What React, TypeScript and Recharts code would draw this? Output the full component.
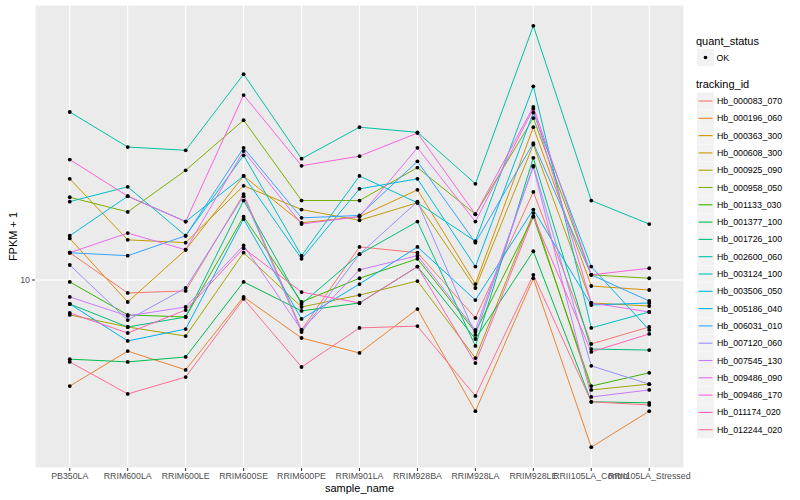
import React from "react";
import { LineChart, Line, XAxis, YAxis, CartesianGrid, Label } from "recharts";

const samples = [
  "PB350LA",
  "RRIM600LA",
  "RRIM600LE",
  "RRIM600SE",
  "RRIM600PE",
  "RRIM901LA",
  "RRIM928BA",
  "RRIM928LA",
  "RRIM928LE",
  "RRII105LA_Control",
  "RRII105LA_Stressed",
];

const trackingIds = [
  "Hb_000083_070",
  "Hb_000196_060",
  "Hb_000363_300",
  "Hb_000608_300",
  "Hb_000925_090",
  "Hb_000958_050",
  "Hb_001133_030",
  "Hb_001377_100",
  "Hb_001726_100",
  "Hb_002600_060",
  "Hb_003124_100",
  "Hb_003506_050",
  "Hb_005186_040",
  "Hb_006031_010",
  "Hb_007120_060",
  "Hb_007545_130",
  "Hb_009486_090",
  "Hb_009486_170",
  "Hb_011174_020",
  "Hb_012244_020",
];

// ggplot default hue palette, 20 levels
const colors = [
  "#F8766D", "#EA8331", "#D89000", "#C09B00", "#A3A500",
  "#7CAE00", "#39B600", "#00BB4E", "#00BF7D", "#00C1A3",
  "#00BFC4", "#00BAE0", "#00B0F6", "#35A2FF", "#9590FF",
  "#C77CFF", "#E76BF3", "#FA62DB", "#FF62BC", "#FF6C91",
];

// FPKM + 1, one value per sample
const hb000083_070 = [11.7, 9.28, 9.39, 16.4, 7.5, 12.1, 11.7, 8.04, 16.6, 6.92, 7.63];
const hb000196_060 = [5.43, 6.64, 5.96, 9.07, 7.16, 6.57, 8.46, 4.7, 10.1, 3.82, 4.7];
const hb000363_300 = [12.7, 8.81, 11.9, 18.2, 13.9, 14.4, 16.8, 9.77, 24.1, 9.66, 9.44];
const hb000608_300 = [17.9, 12.6, 12.4, 17.2, 15.0, 14.1, 15.6, 9.55, 21.8, 8.76, 8.61];
const hb000925_090 = [8.18, 7.63, 7.24, 11.7, 8.56, 9.17, 9.94, 6.38, 14.7, 5.31, 5.49];
const hb000958_050 = [16.1, 14.8, 18.8, 25.1, 15.8, 15.8, 19.1, 14.6, 25.4, 10.3, 10.1];
const hb001133_030 = [9.89, 8.18, 8.08, 14.4, 8.81, 10.1, 11.3, 7.41, 14.4, 5.43, 5.86];
const hb001377_100 = [6.34, 6.24, 6.42, 9.89, 8.37, 8.76, 10.8, 7.12, 11.8, 4.96, 4.93];
const hb001726_100 = [8.71, 7.63, 8.08, 15.8, 8.71, 11.6, 14.0, 6.84, 20.2, 6.72, 6.68];
const hb002600_060 = [26.3, 21.5, 21.1, 32.7, 20.1, 24.1, 23.4, 17.4, 43.2, 15.8, 13.8];
const hb003124_100 = [15.7, 17.1, 12.9, 20.5, 11.5, 18.2, 15.6, 12.5, 30.5, 7.59, 8.32];
const hb003506_050 = [12.9, 16.2, 14.0, 18.2, 11.3, 16.9, 17.9, 10.8, 26.2, 10.8, 7.5];
const hb005186_040 = [8.71, 7.04, 7.54, 14.2, 7.99, 9.77, 12.1, 8.91, 15.0, 8.66, 8.76];
const hb006031_010 = [11.7, 11.5, 12.9, 21.4, 14.3, 14.5, 19.8, 12.4, 22.0, 10.3, 8.86];
const hb007120_060 = [10.9, 7.94, 9.55, 16.2, 7.41, 11.6, 15.7, 7.29, 19.3, 6.1, 5.49];
const hb007545_130 = [9.07, 8.13, 8.56, 12.2, 7.5, 10.6, 11.5, 7.5, 19.2, 5.1, 5.31];
const hb009486_090 = [11.7, 13.1, 11.9, 21.0, 13.8, 14.4, 21.4, 14.0, 26.8, 8.76, 8.32];
const hb009486_170 = [20.0, 16.2, 14.0, 29.0, 19.3, 20.4, 23.3, 14.6, 27.1, 10.3, 10.7];
const hb011174_020 = [8.27, 7.37, 8.41, 12.0, 9.33, 8.76, 10.8, 6.2, 14.4, 6.61, 7.33];
const hb012244_020 = [6.24, 5.19, 5.72, 8.97, 6.06, 7.59, 7.67, 5.13, 10.3, 4.96, 4.87];

const seriesValues = [
  hb000083_070, hb000196_060, hb000363_300, hb000608_300, hb000925_090,
  hb000958_050, hb001133_030, hb001377_100, hb001726_100, hb002600_060,
  hb003124_100, hb003506_050, hb005186_040, hb006031_010, hb007120_060,
  hb007545_130, hb009486_090, hb009486_170, hb011174_020, hb012244_020,
];

const yTicks = [10];

const data = samples.map((name, i) => {
  const row: Record<string, number | string> = { x: i, name };
  trackingIds.forEach((id, k) => {
    row[id] = seriesValues[k][i];
  });
  return row;
});

const FONT = '"Liberation Sans", Arial, Helvetica, sans-serif';

const LegendPanel = () => {
  const top = 92.5;
  const step = 17.3;
  return (
    <svg
      width={112}
      height={500}
      style={{ position: "absolute", left: 688, top: 0 }}
      fontFamily={FONT}
    >
      <text x={8} y={44.5} fontSize={11} fill="#000">
        quant_status
      </text>
      <rect x={9} y={49} width={17} height={17} fill="#F2F2F2" />
      <circle cx={17.5} cy={57.5} r={1.8} fill="#000" />
      <text x={28.5} y={61} fontSize={8.8} fill="#000">
        OK
      </text>
      <text x={8} y={88} fontSize={11} fill="#000">
        tracking_id
      </text>
      {trackingIds.map((id, k) => {
        const y = top + k * step;
        return (
          <g key={id}>
            <rect x={9} y={y} width={17} height={17} fill="#F2F2F2" />
            <line x1={10.5} x2={24.5} y1={y + 8.5} y2={y + 8.5} stroke={colors[k]} strokeWidth={1.1} />
            <text x={29} y={y + 11.5} fontSize={8.8} fill="#000">
              {id}
            </text>
          </g>
        );
      })}
    </svg>
  );
};

export default function App() {
  return (
    <div
      style={{
        position: "absolute",
        left: 0,
        top: 0,
        width: 800,
        height: 500,
        background: "#fff",
        fontFamily: FONT,
      }}
    >
      <LineChart
        width={800}
        height={500}
        data={data}
        margin={{ top: 5, right: 116, bottom: 0, left: 0 }}
      >
        <CartesianGrid fill="#EBEBEB" fillOpacity={1} stroke="#FFFFFF" strokeWidth={1.1} />
        <XAxis
          dataKey="x"
          type="number"
          domain={[-0.6, 10.6]}
          ticks={samples.map((_, i) => i)}
          tickFormatter={(i: number) => samples[i]}
          interval={0}
          height={32}
          axisLine={false}
          tickSize={3}
          tickLine={{ stroke: "#333333" }}
          tick={{ fontSize: 8.8, fill: "#4D4D4D", fontFamily: FONT }}
        >
          <Label
            content={() => (
              <text x={359.5} y={492} textAnchor="middle" fontSize={11} fill="#000" fontFamily={FONT}>
                sample_name
              </text>
            )}
          />
        </XAxis>
        <YAxis
          type="number"
          scale="log"
          domain={[3.388, 48.7]}
          allowDataOverflow
          ticks={yTicks}
          width={35}
          axisLine={false}
          tickSize={3}
          tickLine={{ stroke: "#333333" }}
          tick={{ fontSize: 8.8, fill: "#4D4D4D", fontFamily: FONT }}
        >
          <Label
            content={() => (
              <text
                x={17}
                y={236.5}
                transform="rotate(-90 17 236.5)"
                textAnchor="middle"
                fontSize={11}
                fill="#000"
                fontFamily={FONT}
              >
                FPKM + 1
              </text>
            )}
          />
        </YAxis>
        {trackingIds.map((id, k) => (
          <Line
            key={id}
            type="linear"
            dataKey={id}
            stroke={colors[k]}
            strokeWidth={1}
            dot={{ r: 1.9, fill: "#000", stroke: "none" }}
            activeDot={false}
            isAnimationActive={false}
          />
        ))}
      </LineChart>
      <LegendPanel />
    </div>
  );
}
